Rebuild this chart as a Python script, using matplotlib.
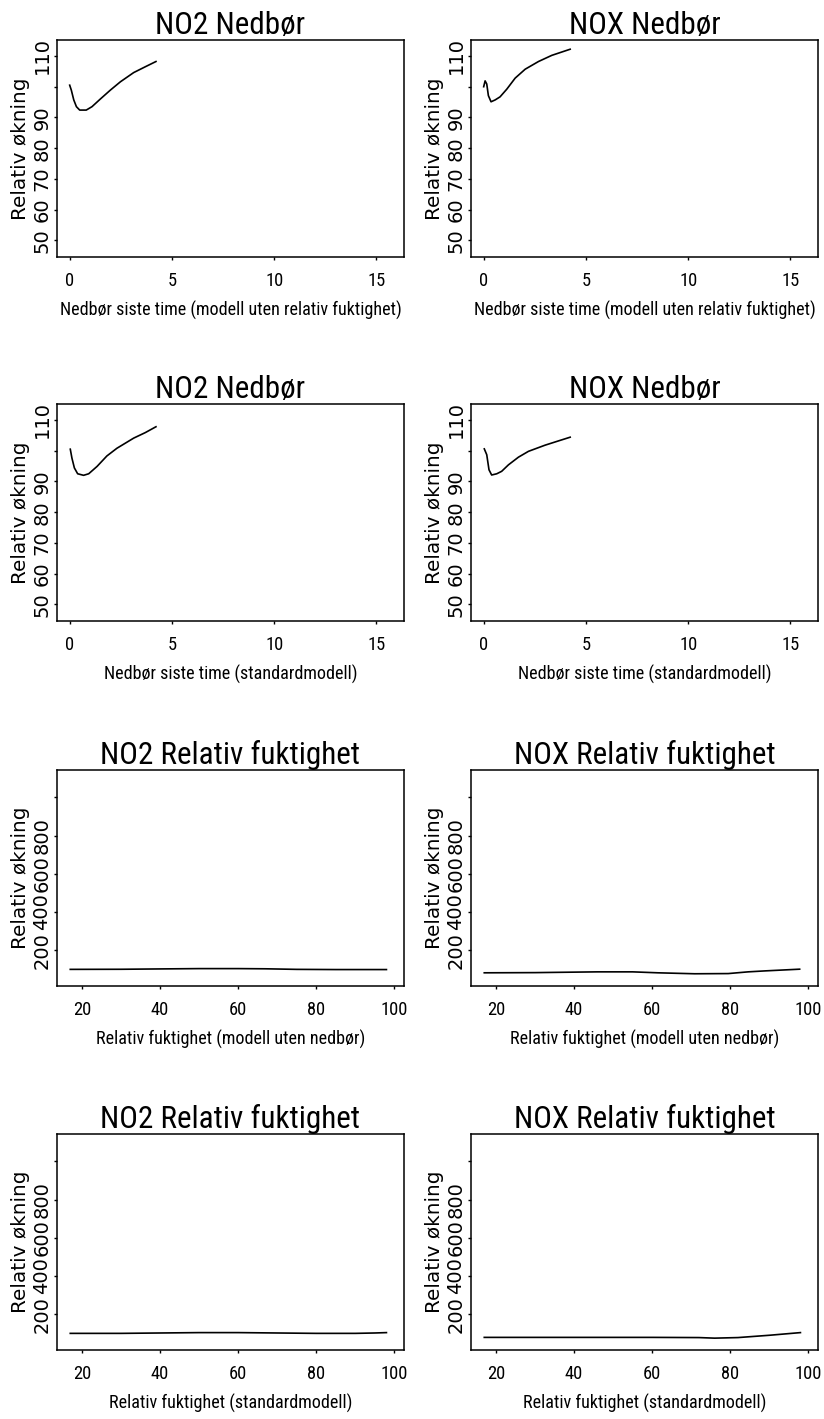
import os
import matplotlib
matplotlib.use("Agg")
import matplotlib.pyplot as plt
from matplotlib import font_manager
from matplotlib.font_manager import FontProperties

# narrow sans for titles and x axis text (like the S-PLUS Helvetica Narrow)
names = {f.name for f in font_manager.fontManager.ttflist}
NARROW = {"family": "Liberation Sans"}
for fam in ["Liberation Sans Narrow", "Roboto Condensed", "Archivo Narrow", "PT Sans Narrow",
            "Arimo Narrow", "Fira Sans Condensed", "IBM Plex Sans Condensed", "Open Sans Condensed",
            "Sofia Sans Condensed", "Encode Sans Condensed"]:
    if fam in names:
        NARROW = {"family": fam}
        break
WIDE = {"family": "DejaVu Sans"}

# ---- data ----
# precipitation (nedbør) curves
no2_rain_x1 = [0.0, 0.08, 0.2, 0.33, 0.49, 0.81, 1.09, 1.5, 1.99, 2.48, 3.13, 3.7, 4.22]
no2_rain_y1 = [100.5, 98.9, 95.7, 93.5, 92.4, 92.4, 93.5, 96.0, 98.9, 101.6, 104.6, 106.5, 108.2]
nox_rain_x1 = [0.0, 0.07, 0.15, 0.23, 0.36, 0.56, 0.8, 1.13, 1.54, 2.03, 2.68, 3.33, 4.23]
nox_rain_y1 = [100.0, 101.9, 100.9, 97.1, 95.1, 95.7, 96.7, 99.2, 102.8, 105.7, 108.2, 110.2, 112.2]
no2_rain_x2 = [0.03, 0.11, 0.23, 0.39, 0.68, 0.93, 1.34, 1.82, 2.31, 3.13, 3.7, 4.22]
no2_rain_y2 = [100.5, 97.6, 94.4, 92.5, 92.0, 92.5, 94.9, 98.3, 100.8, 104.1, 105.9, 107.8]
nox_rain_x2 = [0.03, 0.15, 0.26, 0.39, 0.64, 0.88, 1.21, 1.7, 2.19, 3.0, 3.66, 4.23]
nox_rain_y2 = [100.6, 98.7, 93.8, 92.1, 92.5, 93.3, 95.4, 97.9, 99.8, 101.8, 103.2, 104.4]

# relative humidity curves
no2_hum_x1 = [17, 30, 41, 50, 60, 67, 75, 85, 98]
no2_hum_y1 = [100, 100.5, 102.5, 104, 104, 103, 100, 99, 99]
nox_hum_x1 = [17, 30, 46, 55, 61.5, 70.9, 79.5, 84.6, 88.9, 97.8]
nox_hum_y1 = [82, 83, 87, 87, 82, 77, 78, 87, 92, 101]
no2_hum_x2 = [17, 30, 40, 50, 60, 70, 80, 90, 95, 98]
no2_hum_y2 = [100, 100, 102, 104, 104, 102, 100, 100, 102, 104]
nox_hum_x2 = [17, 30, 45, 60, 72, 76, 82, 90, 98]
nox_hum_y2 = [79, 79, 79, 79, 78, 75, 78, 90, 104]

rain_xticks = [0, 5, 10, 15]
rain_yticks = [50, 60, 70, 80, 90, 100, 110]
rain_ylabels = ["50", "60", "70", "80", "90", "", "110"]
hum_xticks = [20, 40, 60, 80, 100]
hum_yticks = [200, 400, 600, 800, 1000]
hum_ylabels = ["200", "400", "600", "800", ""]

W, H = 824, 1419
fig = plt.figure(figsize=(W / 100, H / 100), dpi=100)
renderer = fig.canvas.get_renderer()


def fit_size(text, width_px):
    # font size (narrow font) that gives the text the width seen in the picture
    t = fig.text(0, 0, text, fontproperties=FontProperties(size=10, **NARROW))
    w = t.get_window_extent(renderer).width
    t.remove()
    return 10 * width_px / w


TITLE_SIZE = fit_size("NO2 Relativ fuktighet", 258)
XLABEL_SIZE = fit_size("Nedbør siste time (modell uten relativ fuktighet)", 340)
XTICK_SIZE = fit_size("100", 27)


def panel(px, top, bottom, x, y, title, xlabel, xlim, ylim, xticks, yticks, ylabels):
    # px = left/right pixel edges, top/bottom in pixels from top of image
    ax = fig.add_axes([px[0] / W, 1 - bottom / H, (px[1] - px[0]) / W, (bottom - top) / H])
    ax.plot(x, y, color="black", lw=1.2)
    ax.set_xlim(xlim)
    ax.set_ylim(ylim)
    ax.set_xticks(xticks)
    ax.set_xticklabels([str(t) for t in xticks], fontproperties=FontProperties(size=XTICK_SIZE, **NARROW))
    ax.set_yticks(yticks)
    ax.set_yticklabels(ylabels, fontproperties=FontProperties(size=14, **WIDE), rotation=90, va="center")
    ax.tick_params(axis="x", direction="out", length=2.5, width=1, pad=8)
    ax.tick_params(axis="y", direction="out", length=2.5, width=1, pad=1.5)
    for s in ax.spines.values():
        s.set_linewidth(1.1)
    ax.set_title(title, fontproperties=FontProperties(size=TITLE_SIZE, **NARROW), pad=0)
    ax.set_xlabel(xlabel, fontproperties=FontProperties(size=XLABEL_SIZE, **NARROW), labelpad=8)
    ax.set_ylabel("Relativ økning", fontproperties=FontProperties(size=14.4, **WIDE), labelpad=2)
    return ax


L = (57, 404)
R = (471, 818)
rain_xlim = (-0.62, 16.35)
rain_ylim = (44.6, 115.2)
hum_xlim = (13.6, 102.5)
hum_ylim = (13, 1143)

panel(L, 40, 257, no2_rain_x1, no2_rain_y1, "NO2 Nedbør",
      "Nedbør siste time (modell uten relativ fuktighet)",
      rain_xlim, rain_ylim, rain_xticks, rain_yticks, rain_ylabels)
panel(R, 40, 257, nox_rain_x1, nox_rain_y1, "NOX Nedbør",
      "Nedbør siste time (modell uten relativ fuktighet)",
      rain_xlim, rain_ylim, rain_xticks, rain_yticks, rain_ylabels)
panel(L, 404, 621, no2_rain_x2, no2_rain_y2, "NO2 Nedbør",
      "Nedbør siste time (standardmodell)",
      rain_xlim, rain_ylim, rain_xticks, rain_yticks, rain_ylabels)
panel(R, 404, 621, nox_rain_x2, nox_rain_y2, "NOX Nedbør",
      "Nedbør siste time (standardmodell)",
      rain_xlim, rain_ylim, rain_xticks, rain_yticks, rain_ylabels)
panel(L, 770, 986, no2_hum_x1, no2_hum_y1, "NO2 Relativ fuktighet",
      "Relativ fuktighet (modell uten nedbør)",
      hum_xlim, hum_ylim, hum_xticks, hum_yticks, hum_ylabels)
panel(R, 770, 986, nox_hum_x1, nox_hum_y1, "NOX Relativ fuktighet",
      "Relativ fuktighet (modell uten nedbør)",
      hum_xlim, hum_ylim, hum_xticks, hum_yticks, hum_ylabels)
panel(L, 1134, 1350, no2_hum_x2, no2_hum_y2, "NO2 Relativ fuktighet",
      "Relativ fuktighet (standardmodell)",
      hum_xlim, hum_ylim, hum_xticks, hum_yticks, hum_ylabels)
panel(R, 1134, 1350, nox_hum_x2, nox_hum_y2, "NOX Relativ fuktighet",
      "Relativ fuktighet (standardmodell)",
      hum_xlim, hum_ylim, hum_xticks, hum_yticks, hum_ylabels)

fig.savefig("out.png", dpi=100)
